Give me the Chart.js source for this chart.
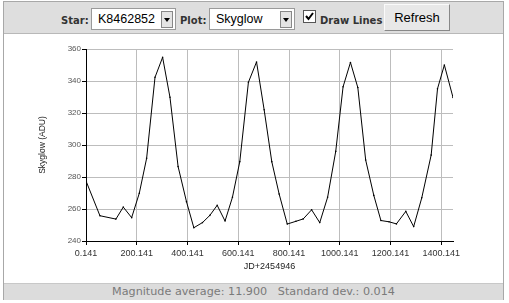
<!DOCTYPE html>
<html><head><meta charset="utf-8">
<script src="https://cdn.jsdelivr.net/npm/chart.js@4/dist/chart.umd.min.js"></script>
<style>
html,body{margin:0;padding:0;background:#fff;width:509px;height:303px;overflow:hidden;}
#frame{position:absolute;left:3px;top:1px;width:499px;height:297px;border:1px solid #a8a8a8;background:#fff;}
#bar{position:absolute;left:0;top:0;width:499px;height:31px;background:#dedede;border-bottom:1px solid #b8b8b8;}
.lbl{position:absolute;font:bold 10px "DejaVu Sans";color:#333;top:13px;}
.sel{position:absolute;top:6px;height:20px;background:#fff;border:1px solid #9a9a9a;font:12.5px "Liberation Sans";color:#000;line-height:20px;}
.arr{position:absolute;top:2px;width:10px;height:15px;background:#e4e4e4;border:1px solid #888;}
.arr:after{content:"";position:absolute;left:2px;top:6px;border-left:3px solid transparent;border-right:3px solid transparent;border-top:4px solid #000;}
#chk{position:absolute;left:299px;top:8px;width:11px;height:11px;background:#fff;border:1px solid #555;}
#btn{position:absolute;left:380px;top:2px;width:64px;height:25px;background:#e8e8e8;border:1px solid;border-color:#fafafa #888 #888 #fafafa;font:13px "Liberation Sans";text-align:center;line-height:25px;color:#000;}
#status{position:absolute;left:0;top:281px;width:499px;height:16px;background:#dcdcdc;border-top:1px solid #c8c8c8;font:11.2px "DejaVu Sans";color:#7a7a7a;text-align:center;line-height:16px;white-space:pre;}
#c{position:absolute;left:0;top:0;}
</style></head>
<body>
<div id="frame">
 <div id="bar">
  <div class="lbl" style="left:57px">Star:</div>
  <div class="sel" style="left:87px;width:83px"><span style="position:absolute;left:6px">K8462852</span><div class="arr" style="left:69px"></div></div>
  <div class="lbl" style="left:176px">Plot:</div>
  <div class="sel" style="left:205px;width:84px"><span style="position:absolute;left:6px">Skyglow</span><div class="arr" style="left:70px"></div></div>
  <div id="chk"><svg width="11" height="11" style="position:absolute;left:0;top:0"><path d="M2 5 L4.5 8 L9 2" stroke="#000" stroke-width="2" fill="none"/></svg></div>
  <div class="lbl" style="left:316px">Draw Lines</div>
  <div id="btn">Refresh</div>
 </div>
 <div id="status">Magnitude average: 11.900   Standard dev.: 0.014</div>
</div>
<canvas id="c" width="509" height="303"></canvas>
<script>
const jd = [0.141, 1.5, 55, 118, 147, 180, 210, 239, 272, 302, 331, 363, 396, 425, 459, 488, 517, 548, 577, 606, 640, 672, 702, 732, 761, 793, 827, 856, 889, 921, 952, 984, 1013, 1042, 1071, 1102, 1134, 1162, 1194, 1223, 1260, 1291, 1323, 1360, 1385, 1412, 1446];
const skyglow = [284.5, 277, 255.8, 253.7, 261.2, 254.6, 269.8, 291.7, 342.3, 354.8, 329.8, 286.5, 264.6, 248.3, 251.5, 256, 262.3, 252.5, 267.3, 289.6, 339.2, 351.9, 322, 289.6, 269.4, 250.6, 252.3, 253.8, 259.5, 251.5, 267.3, 296, 336.4, 351.6, 335.9, 290.6, 268.5, 252.8, 252, 250.7, 258.5, 249, 267, 293.7, 335.2, 350, 329.7];
const xTickLabels = ["0.141","200.141","400.141","600.141","800.141","1000.141","1200.141","1400.141"];
const yTicks = [240, 260, 280, 300, 320, 340, 360];

const pts = jd.map((x, i) => ({x, y: skyglow[i]}));
new Chart(document.getElementById('c'), {
  type: 'line',
  data: { datasets: [{ data: pts, borderColor: '#000', borderWidth: 1, tension: 0,
    pointRadius: 0.8, pointBorderWidth: 0, pointBackgroundColor: '#000', fill: false }] },
  options: {
    responsive: false, animation: false, devicePixelRatio: 1,
    layout: { padding: { top: 49, right: 56, left: 0, bottom: 0 } },
    plugins: { legend: { display: false }, tooltip: { enabled: false } },
    scales: {
      x: {
        type: 'linear', min: 0.141, max: 1446,
        afterBuildTicks: s => { s.ticks = xTickLabels.map(l => ({ value: parseFloat(l), label: l })); },
        afterFit: s => { s.height = 62; },
        ticks: { callback: (v) => { const m = xTickLabels.find(l => Math.abs(parseFloat(l) - v) < 1e-6); return m || ''; },
          font: { family: 'Liberation Sans', size: 9 }, color: '#333', padding: 3, maxRotation: 0, autoSkip: false },
        grid: { color: '#bdbdbd', borderDash: [3, 2], tickLength: 4, tickColor: '#000', tickBorderDash: [] },
        border: { color: '#000', width: 1 },
        title: { display: true, text: 'JD+2454946', font: { family: 'Liberation Sans', size: 9 }, color: '#222', padding: { top: 0, bottom: 30.6 } }
      },
      y: {
        min: 240, max: 360,
        afterBuildTicks: s => { s.ticks = yTicks.map(v => ({ value: v })); },
        afterFit: s => { s.width = 86; },
        ticks: { font: { family: 'Liberation Sans', size: 8 }, color: '#555', padding: 1 },
        grid: { color: '#bdbdbd', borderDash: [3, 2], tickLength: 4, tickColor: '#000', tickBorderDash: [] },
        border: { color: '#000', width: 1 },
        title: { display: true, text: 'Skyglow (ADU)', font: { family: 'Liberation Sans', size: 8.5 }, color: '#222', padding: { top: 38, bottom: 0 } }
      }
    }
  }
});
</script>
</body></html>
